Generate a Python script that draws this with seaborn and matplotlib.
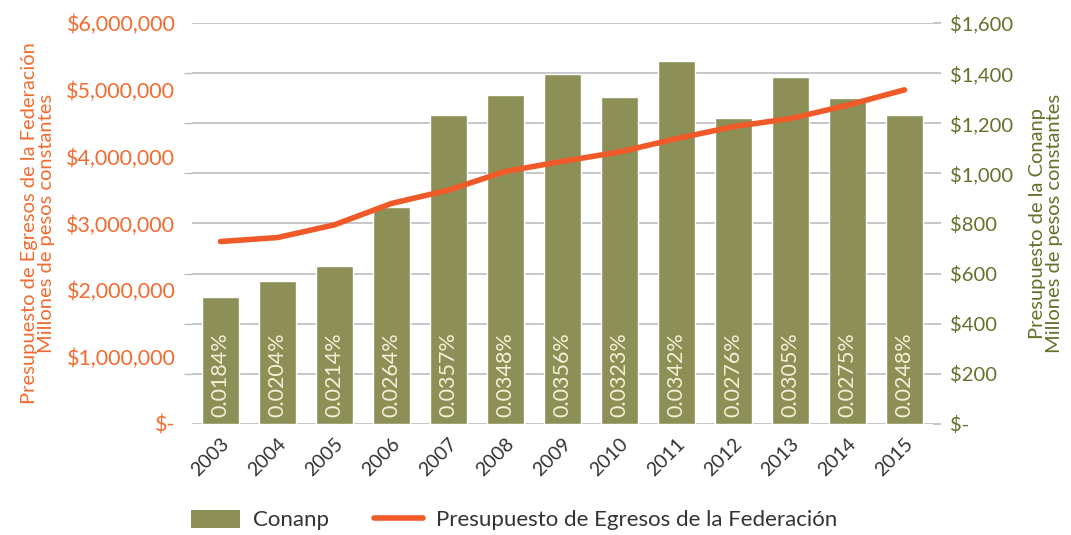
import matplotlib
matplotlib.use("Agg")
import matplotlib.pyplot as plt
from matplotlib.ticker import FixedLocator, FuncFormatter
from matplotlib.patches import Patch
from matplotlib.lines import Line2D
import seaborn as sns
import pandas as pd

years = ["2003", "2004", "2005", "2006", "2007", "2008", "2009",
         "2010", "2011", "2012", "2013", "2014", "2015"]
conanp = [505, 570, 632, 865, 1232, 1312, 1395, 1305, 1450, 1220, 1386, 1300, 1232]
pef = [2730000, 2790000, 2980000, 3300000, 3500000, 3780000, 3930000,
       4070000, 4270000, 4450000, 4570000, 4770000, 5000000]
shares = ["0.0184%", "0.0204%", "0.0214%", "0.0264%", "0.0357%", "0.0348%", "0.0356%",
          "0.0323%", "0.0342%", "0.0276%", "0.0305%", "0.0275%", "0.0248%"]

sns.set_theme(style="white")
plt.rcParams["font.family"] = ["Lato", "DejaVu Sans"]

OLIVE = "#8C9057"
OLIVE_TXT = "#66702A"
ORANGE = "#F05A28"
ORANGE_TXT = "#F26B30"
GRID = "#BDBDC2"

df = pd.DataFrame({"year": years, "conanp": conanp, "pef": pef})

fig = plt.figure(figsize=(10.71, 5.35), dpi=100)
ax = fig.add_axes([0.1793, 0.2075, 0.8711 - 0.1793, 0.957 - 0.2075])
ax2 = ax.twinx()

sns.barplot(data=df, x="year", y="conanp", color=OLIVE, saturation=1,
            width=0.66, ax=ax, zorder=2)
ax.set_ylim(0, 1600)
ax.set_xlim(-0.5, len(years) - 0.5)
ax.yaxis.tick_right()
ax.yaxis.set_label_position("right")
ax.set_yticks(range(0, 1601, 200))
ax.yaxis.set_major_formatter(FuncFormatter(lambda v, p: "$-" if v == 0 else f"${v:,.0f}"))
ax.grid(axis="y", color=GRID, linewidth=1.2)
ax.set_axisbelow(True)
for s in ax.spines.values():
    s.set_visible(False)
ax.tick_params(axis="y", which="major", left=False, right=True, length=6, color=GRID,
               labelleft=False, labelright=True,
               labelsize=14.5, labelcolor=OLIVE_TXT, pad=6)
ax.tick_params(axis="x", bottom=False, labelsize=14, labelcolor="#333333", pad=2)
for lbl in ax.get_xticklabels():
    lbl.set_rotation(45)
    lbl.set_ha("right")
    lbl.set_rotation_mode("anchor")
ax.set_xlabel("")
ax.set_ylabel("Presupuesto de la Conanp\nMillones de pesos constantes",
              color=OLIVE_TXT, fontsize=14.5, labelpad=12, rotation=90,
              linespacing=1.0)

for i, t in enumerate(shares):
    ax.text(i, 26, t, rotation=90, ha="center", va="bottom",
            color="#F4F1D6", fontsize=15.5, zorder=3)

sns.lineplot(data=df, x="year", y="pef", color=ORANGE, linewidth=4,
             ax=ax2, zorder=4, sort=False)
ax2.set_ylim(0, 6000000)
ax2.set_xlim(-0.5, len(years) - 0.5)
ax2.yaxis.tick_left()
ax2.yaxis.set_label_position("left")
ax2.set_yticks(range(0, 6000001, 1000000))
ax2.yaxis.set_minor_locator(FixedLocator([i * 750000 for i in range(9)]))
ax2.yaxis.set_major_formatter(FuncFormatter(lambda v, p: "$-" if v == 0 else f"${v:,.0f}"))
ax2.tick_params(axis="y", which="major", left=True, right=False, length=0,
                labelleft=True, labelright=False,
                labelsize=15.5, labelcolor=ORANGE_TXT, pad=12)
ax2.tick_params(axis="y", which="minor", left=True, right=False, length=6, color=GRID)
for s in ax2.spines.values():
    s.set_visible(False)
ax2.set_ylabel("Presupuesto de Egresos de la Federación\nMillones de pesos constantes",
               color=ORANGE_TXT, fontsize=14.5, labelpad=8, linespacing=1.0)
ax2.set_xlabel("")
if ax2.get_legend():
    ax2.get_legend().remove()

handles = [Patch(facecolor=OLIVE, edgecolor="none"),
           Line2D([0], [0], color=ORANGE, linewidth=4)]
fig.legend(handles, ["Conanp", "Presupuesto de Egresos de la Federación"],
           loc="center", bbox_to_anchor=(0.48, 0.028), ncol=2, frameon=False,
           fontsize=16, handlelength=2.2, handleheight=0.9, columnspacing=2.0,
           handletextpad=0.6, labelcolor="#333333")

fig.savefig("out.png", dpi=100)
